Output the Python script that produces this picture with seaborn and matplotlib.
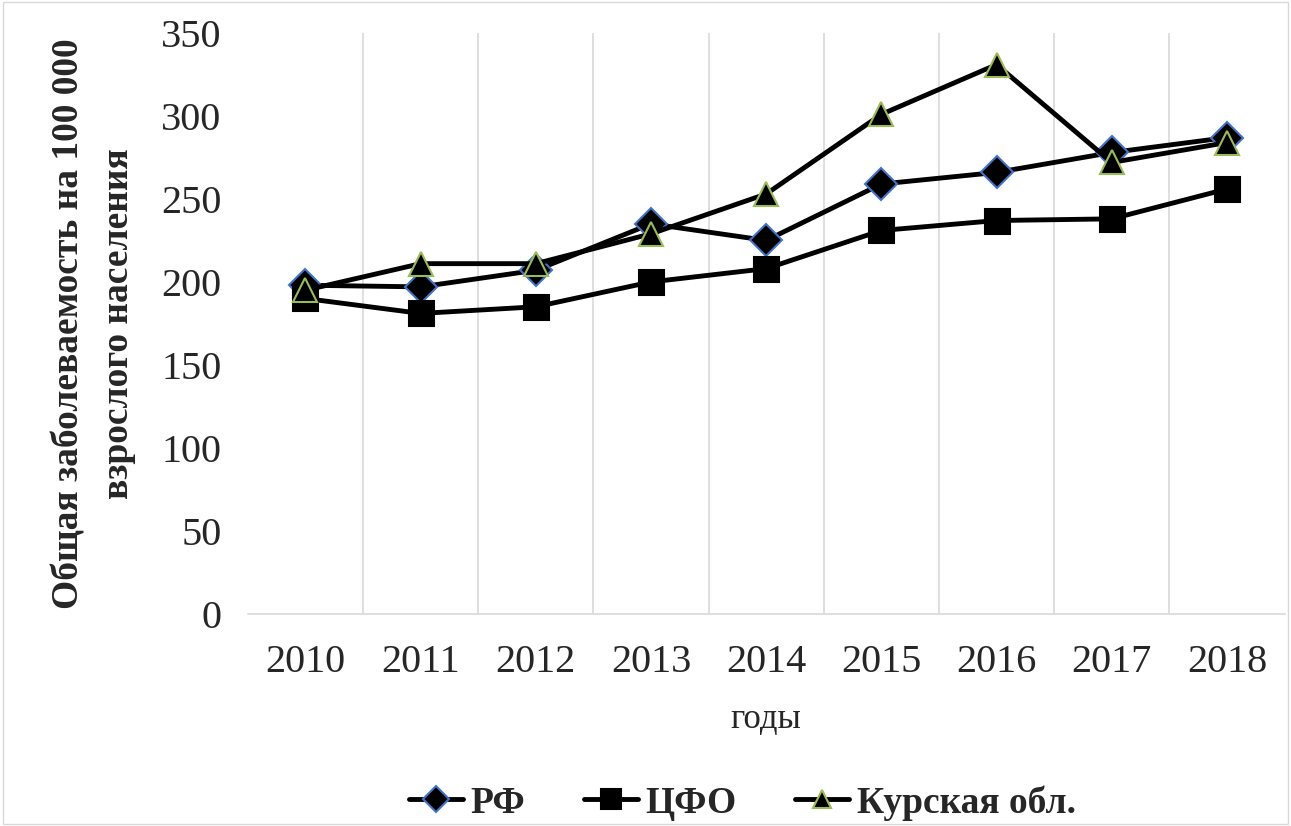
import matplotlib
matplotlib.use("Agg")
import matplotlib.pyplot as plt
import pandas as pd
import seaborn as sns

years = ["2010", "2011", "2012", "2013", "2014", "2015", "2016", "2017", "2018"]
rf = [198, 197, 207, 235, 225, 259, 266, 278, 287]
cfo = [190, 181, 185, 200, 208, 231, 237, 238, 256]
kursk = [195, 211, 211, 229, 253, 301, 331, 272, 284]

series_names = ["РФ", "ЦФО", "Курская обл."]
markers = ["D", "s", "^"]
edge_colors = ["#4472C4", "#000000", "#9BBB59"]
marker_sizes = [16, 18, 17]

df = pd.DataFrame({"year": years * 3,
                   "value": rf + cfo + kursk,
                   "series": sum([[n] * len(years) for n in series_names], [])})

sns.set_style("white")
plt.rcParams["font.family"] = ["Liberation Serif", "DejaVu Serif"]

fig, ax = plt.subplots(figsize=(12.91, 8.26), dpi=100)
fig.subplots_adjust(left=0.192, right=0.995, top=0.96, bottom=0.257)

for name, m, ec, ms in zip(series_names, markers, edge_colors, marker_sizes):
    sub = df[df["series"] == name]
    sns.lineplot(data=sub, x="year", y="value", ax=ax, color="black", linewidth=3.5,
                 marker=m, markersize=ms, markerfacecolor="black",
                 markeredgecolor=ec, markeredgewidth=1.5, label=name, sort=False)

ax.set_ylim(0, 350)
ax.set_yticks(range(0, 351, 50))
ax.set_xlim(-0.5, len(years) - 0.5)
ax.set_xticks(range(len(years)))
ax.set_xticklabels(years)
ax.set_xticks([i + 0.5 for i in range(len(years) - 1)], minor=True)
ax.grid(False)
ax.grid(which="minor", axis="x", color="#d9d9d9", linewidth=1.2)
ax.tick_params(axis="both", which="both", length=0, labelsize=29)
ax.tick_params(axis="x", pad=22)
ax.tick_params(axis="y", pad=19)
for s in ["top", "right", "left"]:
    ax.spines[s].set_visible(False)
ax.spines["bottom"].set_color("#d9d9d9")
ax.spines["bottom"].set_linewidth(1.2)

ax.set_xlabel("годы", fontsize=25, labelpad=16)
ax.set_ylabel("Общая заболеваемость на 100 000\nвзрослого населения",
              fontsize=27, fontweight="bold", labelpad=18, linespacing=1.55)

ax.get_legend().remove()
handles, labels = ax.get_legend_handles_labels()
fig.legend(handles, labels, loc="center", bbox_to_anchor=(0.575, 0.028),
           bbox_transform=fig.transFigure, ncol=3, frameon=False,
           prop={"size": 27, "weight": "bold"}, handlelength=1.45,
           columnspacing=1.55, handletextpad=0.2, markerscale=0.8)

fig.patches.append(plt.Rectangle((0.002, 0.002), 0.996, 0.996, transform=fig.transFigure,
                                 fill=False, edgecolor="#d9d9d9", linewidth=1))

fig.savefig("out.png", dpi=100)
